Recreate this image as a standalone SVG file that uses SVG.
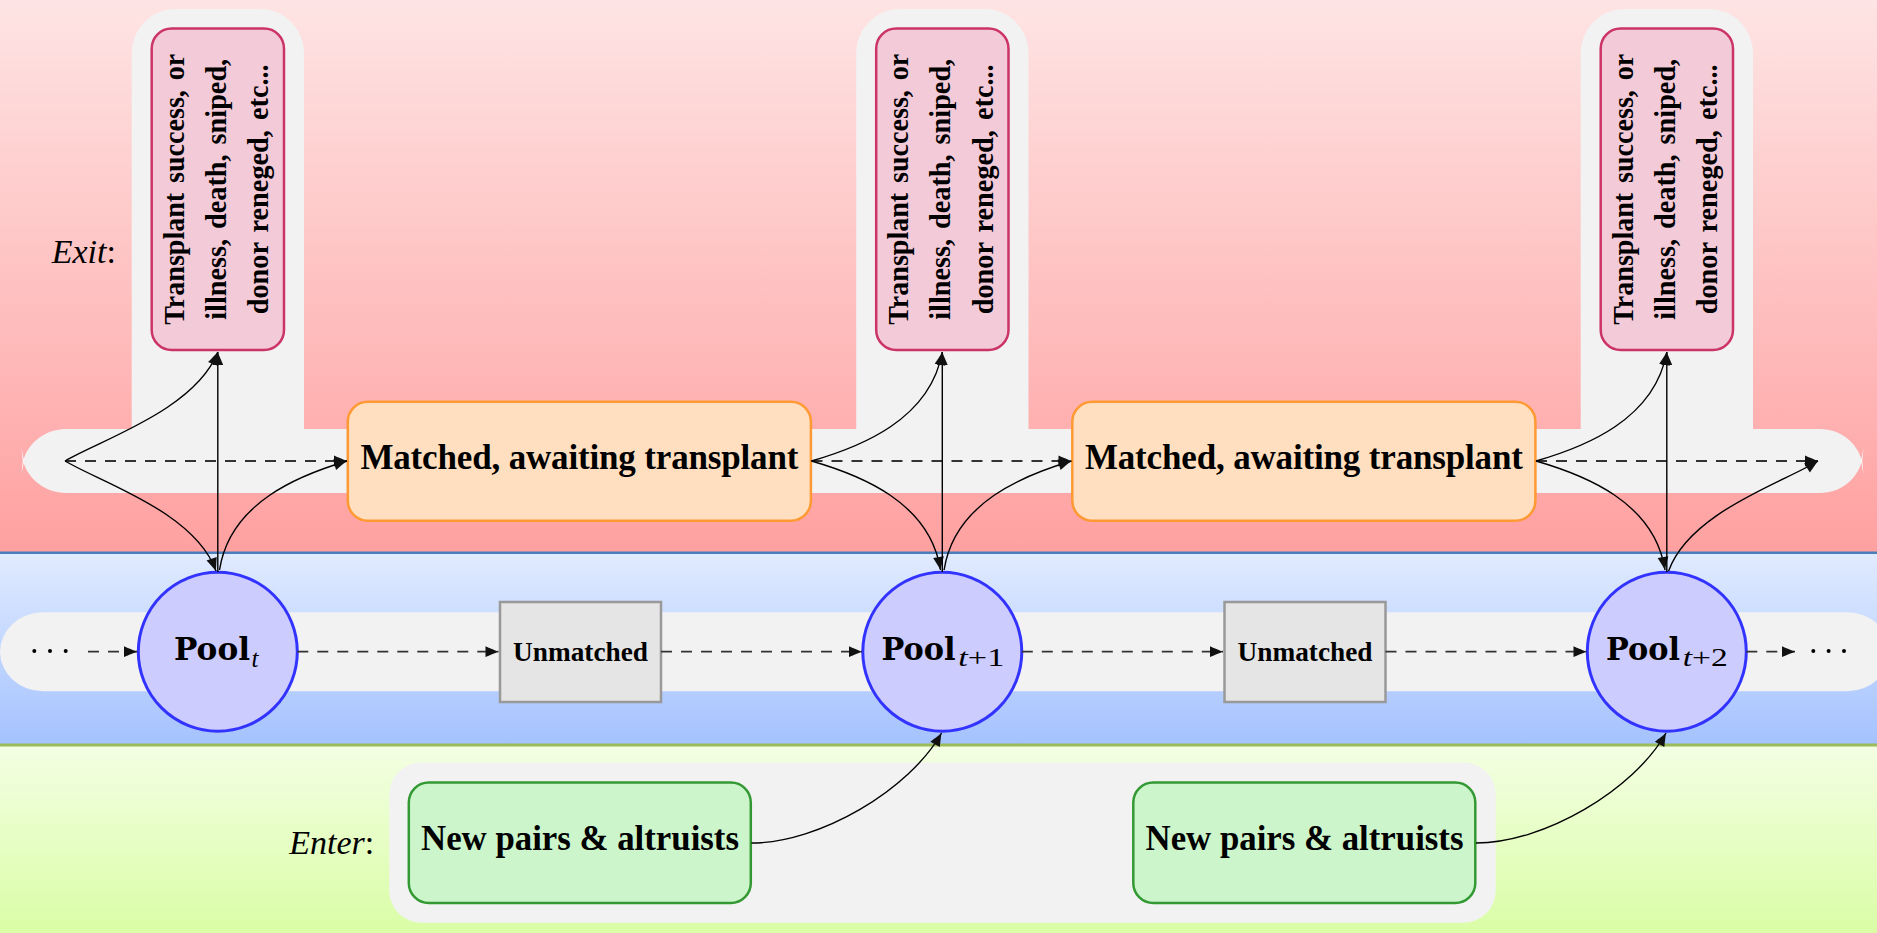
<svg xmlns="http://www.w3.org/2000/svg" width="1877" height="933" viewBox="0 0 1877 933">
  <defs>
    <linearGradient id="gExit" x1="0" y1="0" x2="0" y2="1">
      <stop offset="0" stop-color="#fee4e4"/>
      <stop offset="1" stop-color="#ffa0a0"/>
    </linearGradient>
    <linearGradient id="gPool" x1="0" y1="0" x2="0" y2="1">
      <stop offset="0" stop-color="#e1ebff"/>
      <stop offset="1" stop-color="#a4c2ff"/>
    </linearGradient>
    <linearGradient id="gEnter" x1="0" y1="0" x2="0" y2="1">
      <stop offset="0" stop-color="#f3ffe3"/>
      <stop offset="1" stop-color="#dafda6"/>
    </linearGradient>
    <marker id="tip" markerUnits="userSpaceOnUse" markerWidth="20" markerHeight="20" refX="0" refY="0" orient="auto" overflow="visible">
      <path d="M0,0 C-4,-1.6 -9,-3.6 -13,-5.4 L-13,5.4 C-9,3.6 -4,1.6 0,0 Z" fill="#111"/>
    </marker>
    <style>
      .lane { fill: #f2f2f2; }
      .label { font-family: "Liberation Serif", "Times New Roman", serif; font-style: italic; font-size: 34px; fill: #000; }
      .bold { font-family: "Liberation Serif", "Times New Roman", serif; font-weight: bold; fill: #000; }
      .exitbox rect { fill: #f2cad8; stroke: #cc3366; stroke-width: 2.5; }
      .exitbox text { font-size: 29px; word-spacing: 3px; }
      .matched rect { fill: #ffdfbf; stroke: #ff9933; stroke-width: 2.5; }
      .matched text { font-size: 35px; }
      .pool circle { fill: #ccccff; stroke: #3333ff; stroke-width: 3; }
      .pool .name { font-family: "DejaVu Serif", serif; font-weight: bold; font-size: 31px; fill: #000; }
      .pool .sub { font-family: "Liberation Serif", "Times New Roman", serif; font-size: 25px; fill: #000; }
      .unmatched rect { fill: #e5e5e5; stroke: #999999; stroke-width: 2.5; }
      .unmatched text { font-size: 28px; }
      .arrivals rect { fill: #ccf5cc; stroke: #339933; stroke-width: 2.5; }
      .arrivals text { font-size: 35px; }
      .edge { fill: none; stroke: #000; stroke-width: 1.4; marker-end: url(#tip); }
      .flow { fill: none; stroke: #333; stroke-width: 1.8; stroke-dasharray: 11 9; marker-end: url(#tip); }
      .dot { fill: #000; }
    </style>
  </defs>

  <!-- horizontal bands -->
  <rect x="0" y="0" width="1877" height="553" fill="url(#gExit)"/>
  <rect x="0" y="553" width="1877" height="192" fill="url(#gPool)"/>
  <rect x="0" y="745" width="1877" height="188" fill="url(#gEnter)"/>
  <line x1="0" y1="552.7" x2="1877" y2="552.7" stroke="#4a7ebb" stroke-width="2.5"/>
  <line x1="0" y1="745" x2="1877" y2="745" stroke="#9bbb59" stroke-width="3"/>

  <!-- light lanes behind the nodes -->
  <g id="lanes">
    <path class="lane" d="M66,429 H1820 C1841,429 1857,443 1862,461 C1857,479 1841,493 1820,493 H66 C45,493 28,479 23,461 C28,443 45,429 66,429 Z"/>
    <path d="M24,461 L21.5,448 L22.8,461 L21.5,474 Z M1861,461 L1863.5,448 L1862.2,461 L1863.5,474 Z" fill="#ffffff"/>
    <rect class="lane" x="131.7" y="9" width="172.3" height="470" rx="44"/>
    <rect class="lane" x="856.2" y="9" width="172.3" height="470" rx="44"/>
    <rect class="lane" x="1580.7" y="9" width="172.3" height="470" rx="44"/>
    <path class="lane" d="M43,612.3 H1847 A43 39.7 0 0 1 1890,652 A43 39.7 0 0 1 1847,691.3 H43 A43 39.7 0 0 1 0,652 A43 39.7 0 0 1 43,612.3 Z"/>
    <rect class="lane" x="389.3" y="762.5" width="1106.4" height="160.2" rx="32"/>
  </g>

  <!-- row labels -->
  <text class="label" x="51.7" y="263">Exit<tspan font-style="normal">:</tspan></text>
  <text class="label" x="289.3" y="854.3">Enter<tspan font-style="normal">:</tspan></text>

  <!-- exit outcomes -->
  <g id="exit-t" class="exitbox">
    <rect x="151.7" y="28.6" width="132.3" height="321.4" rx="20"/>
    <text class="bold" text-anchor="middle" transform="translate(183.7,189.3) rotate(-90)" textLength="271" lengthAdjust="spacingAndGlyphs">Transplant success, or</text>
    <text class="bold" text-anchor="middle" transform="translate(225.9,189.3) rotate(-90)" textLength="261" lengthAdjust="spacingAndGlyphs">illness, death, sniped,</text>
    <text class="bold" text-anchor="middle" transform="translate(268,189.3) rotate(-90)" textLength="250" lengthAdjust="spacingAndGlyphs">donor reneged, etc...</text>
  </g>
  <g id="exit-t1" class="exitbox">
    <rect x="876.2" y="28.6" width="132.3" height="321.4" rx="20"/>
    <text class="bold" text-anchor="middle" transform="translate(908.2,189.3) rotate(-90)" textLength="271" lengthAdjust="spacingAndGlyphs">Transplant success, or</text>
    <text class="bold" text-anchor="middle" transform="translate(950.4,189.3) rotate(-90)" textLength="261" lengthAdjust="spacingAndGlyphs">illness, death, sniped,</text>
    <text class="bold" text-anchor="middle" transform="translate(992.5,189.3) rotate(-90)" textLength="250" lengthAdjust="spacingAndGlyphs">donor reneged, etc...</text>
  </g>
  <g id="exit-t2" class="exitbox">
    <rect x="1600.7" y="28.6" width="132.3" height="321.4" rx="20"/>
    <text class="bold" text-anchor="middle" transform="translate(1632.7,189.3) rotate(-90)" textLength="271" lengthAdjust="spacingAndGlyphs">Transplant success, or</text>
    <text class="bold" text-anchor="middle" transform="translate(1674.9,189.3) rotate(-90)" textLength="261" lengthAdjust="spacingAndGlyphs">illness, death, sniped,</text>
    <text class="bold" text-anchor="middle" transform="translate(1717,189.3) rotate(-90)" textLength="250" lengthAdjust="spacingAndGlyphs">donor reneged, etc...</text>
  </g>

  <!-- matched, awaiting transplant -->
  <g id="matched-1" class="matched">
    <rect x="347.8" y="401.7" width="463.1" height="119" rx="20"/>
    <text class="bold" x="579.4" y="469.3" text-anchor="middle" textLength="438">Matched, awaiting transplant</text>
  </g>
  <g id="matched-2" class="matched">
    <rect x="1072.3" y="401.7" width="463.1" height="119" rx="20"/>
    <text class="bold" x="1303.9" y="469.3" text-anchor="middle" textLength="438">Matched, awaiting transplant</text>
  </g>

  <!-- pools -->
  <g id="pool-t" class="pool">
    <circle cx="217.8" cy="651.7" r="79.5"/>
    <text class="name" x="174" y="659.5" textLength="76" lengthAdjust="spacingAndGlyphs">Pool</text>
    <text class="sub" x="251.5" y="666.5" font-style="italic">t</text>
  </g>
  <g id="pool-t1" class="pool">
    <circle cx="942.3" cy="651.7" r="79.5"/>
    <text class="name" x="881.6" y="659.5" textLength="74" lengthAdjust="spacingAndGlyphs">Pool</text>
    <text class="sub" x="958.3" y="666" textLength="46" lengthAdjust="spacingAndGlyphs"><tspan font-style="italic">t</tspan>+1</text>
  </g>
  <g id="pool-t2" class="pool">
    <circle cx="1666.8" cy="651.7" r="79.5"/>
    <text class="name" x="1606.1" y="659.5" textLength="74" lengthAdjust="spacingAndGlyphs">Pool</text>
    <text class="sub" x="1682.8" y="666" textLength="45" lengthAdjust="spacingAndGlyphs"><tspan font-style="italic">t</tspan>+2</text>
  </g>

  <!-- unmatched -->
  <g id="unmatched-1" class="unmatched">
    <rect x="500" y="602" width="161" height="100"/>
    <text class="bold" x="580.5" y="660.7" text-anchor="middle" textLength="135" lengthAdjust="spacingAndGlyphs">Unmatched</text>
  </g>
  <g id="unmatched-2" class="unmatched">
    <rect x="1224.5" y="602" width="161" height="100"/>
    <text class="bold" x="1305" y="660.7" text-anchor="middle" textLength="135" lengthAdjust="spacingAndGlyphs">Unmatched</text>
  </g>

  <!-- arrivals -->
  <g id="arrivals-1" class="arrivals">
    <rect x="408.8" y="782.5" width="342" height="120.5" rx="20"/>
    <text class="bold" x="580" y="850" text-anchor="middle" textLength="318" lengthAdjust="spacingAndGlyphs">New pairs &amp; altruists</text>
  </g>
  <g id="arrivals-2" class="arrivals">
    <rect x="1133.3" y="782.5" width="342" height="120.5" rx="20"/>
    <text class="bold" x="1304.5" y="850" text-anchor="middle" textLength="318" lengthAdjust="spacingAndGlyphs">New pairs &amp; altruists</text>
  </g>

  <!-- continuation dots -->
  <g id="dots">
    <circle class="dot" cx="34.3" cy="651" r="2"/>
    <circle class="dot" cx="50" cy="651" r="2"/>
    <circle class="dot" cx="65.7" cy="651" r="2"/>
    <circle class="dot" cx="1813.3" cy="651" r="2"/>
    <circle class="dot" cx="1828.6" cy="651" r="2"/>
    <circle class="dot" cx="1844" cy="651" r="2"/>
  </g>

  <g id="connectors">
    <!-- period t -->
    <path class="flow" d="M65,461 H347"/>
    <path class="edge" d="M65,461 C100,440 195,410 217.8,352"/>
    <path class="edge" d="M65,461 C100,482 195,512 216,571"/>
    <path class="edge" d="M217.8,572 V352"/>
    <path class="edge" d="M219.5,570 C230.1,502 300.1,475 347,461"/>
    <!-- period t+1 -->
    <path class="flow" d="M811.5,461 H1071.5"/>
    <path class="edge" d="M811.5,461 C860,447 930,420 942.3,352"/>
    <path class="edge" d="M811.5,461 C860,475 930,502 940.5,570"/>
    <path class="edge" d="M942.3,572 V352"/>
    <path class="edge" d="M944.1,570 C954.6,502 1024.6,475 1071.5,461"/>
    <!-- period t+2 -->
    <path class="flow" d="M1536,461 H1818"/>
    <path class="edge" d="M1536,461 C1584.5,447 1654.5,420 1666.8,352"/>
    <path class="edge" d="M1536,461 C1584.5,475 1654.5,502 1665,570"/>
    <path class="edge" d="M1666.8,572 V352"/>
    <path class="edge" d="M1668.6,571 C1689.6,512 1784.6,482 1818,461"/>
    <!-- pool chain -->
    <path class="flow" d="M88,651.7 H137"/>
    <path class="flow" d="M297.3,651.7 H498.5"/>
    <path class="flow" d="M661,651.7 H862"/>
    <path class="flow" d="M1021.8,651.7 H1223"/>
    <path class="flow" d="M1385.5,651.7 H1586.5"/>
    <path class="flow" d="M1746.3,651.7 H1795"/>
    <!-- arrivals into pools -->
    <path class="edge" d="M751.5,843 C819.5,843 909.5,790 941.5,733"/>
    <path class="edge" d="M1476,843 C1544,843 1634,790 1666,733"/>
  </g>
</svg>
